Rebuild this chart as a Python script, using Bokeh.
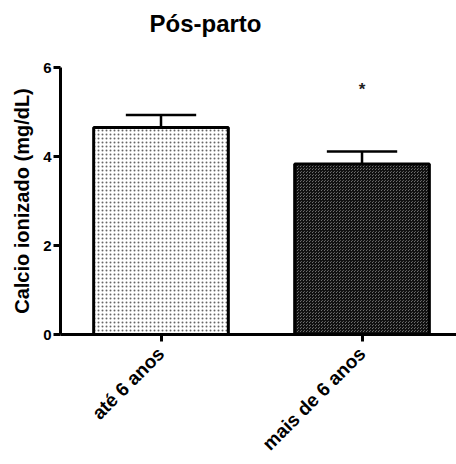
import math
from bokeh.plotting import figure
from bokeh.models import Range1d, FixedTicker, Title
from bokeh.core.properties import value
from bokeh.embed import file_html
from bokeh.resources import INLINE

# ---- data ----
groups = ["até 6 anos", "mais de 6 anos"]
means = [4.65, 3.83]
sems = [0.28, 0.28]
sig_marks = ["", "*"]
sig_y = [0, 5.5]
y_ticks = [0, 2, 4, 6]
title_text = "Pós-parto"
y_label = "Calcio ionizado (mg/dL)"

xs = [0.5 + i for i in range(len(groups))]
FONT = "Liberation Sans"

p = figure(width=456, height=464, title=None,
           x_range=Range1d(0, 1.97), y_range=Range1d(0, 6),
           output_backend="svg", toolbar_location=None,
           min_border_left=60, min_border_right=0,
           min_border_top=67, min_border_bottom=129)

# spacer (closest to frame) then the real title above it
p.add_layout(Title(text=" ", text_font_size="10px", standoff=18), "above")
p.add_layout(Title(text=title_text, text_font=FONT, text_font_size="24px",
                   text_font_style="bold", text_color="black",
                   align="left", offset=89, standoff=0), "above")

p.outline_line_color = None
p.xgrid.grid_line_color = None
p.ygrid.grid_line_color = None

# bars
p.vbar(x=[xs[0]], top=[means[0]], bottom=0, width=0.67,
       fill_color="white", line_color="black", line_width=3,
       hatch_pattern="dot", hatch_color="#666666", hatch_scale=4, hatch_weight=1.2)
p.vbar(x=[xs[1]], top=[means[1]], bottom=0, width=0.67,
       fill_color="#9a9a9a", line_color="black", line_width=3,
       hatch_pattern="criss_cross", hatch_color="#111111", hatch_scale=3, hatch_weight=1.2)

# error bars
tops = [m + s for m, s in zip(means, sems)]
p.segment(x0=xs, y0=means, x1=xs, y1=tops, line_color="black", line_width=2.5)
p.segment(x0=[x - 0.175 for x in xs], y0=tops, x1=[x + 0.175 for x in xs], y1=tops,
          line_color="black", line_width=2.5)

# significance mark
p.text(x=[xs[1]], y=[sig_y[1]], text=[sig_marks[1]], text_align="center",
       text_baseline="middle", text_font=value(FONT), text_font_size="17px",
       text_font_style="bold", text_color="#222222")

# axes
p.yaxis.ticker = FixedTicker(ticks=y_ticks)
p.xaxis.ticker = FixedTicker(ticks=xs)
p.xaxis.major_label_overrides = {x: g for x, g in zip(xs, groups)}
p.xaxis.major_label_orientation = math.pi / 4
for ax in (p.xaxis, p.yaxis):
    ax.axis_line_width = 3
    ax.axis_line_color = "black"
    ax.major_tick_line_width = 3
    ax.major_tick_out = 7
    ax.major_tick_in = 0
    ax.minor_tick_line_color = None
    ax.major_label_text_font = FONT
    ax.major_label_text_font_style = "bold"
    ax.major_label_text_color = "black"
p.yaxis.major_label_text_font_size = "15px"
p.xaxis.major_label_text_font_size = "19px"
p.xaxis.major_label_text_line_height = 1.0
p.yaxis.major_label_standoff = 2
p.xaxis.major_label_standoff = 9
p.yaxis.axis_label = y_label
p.yaxis.axis_label_text_font = FONT
p.yaxis.axis_label_text_font_style = "bold"
p.yaxis.axis_label_text_font_size = "20px"
p.yaxis.axis_label_text_color = "black"
p.yaxis.axis_label_standoff = 7

open("out.html", "w").write(file_html(p, INLINE))
